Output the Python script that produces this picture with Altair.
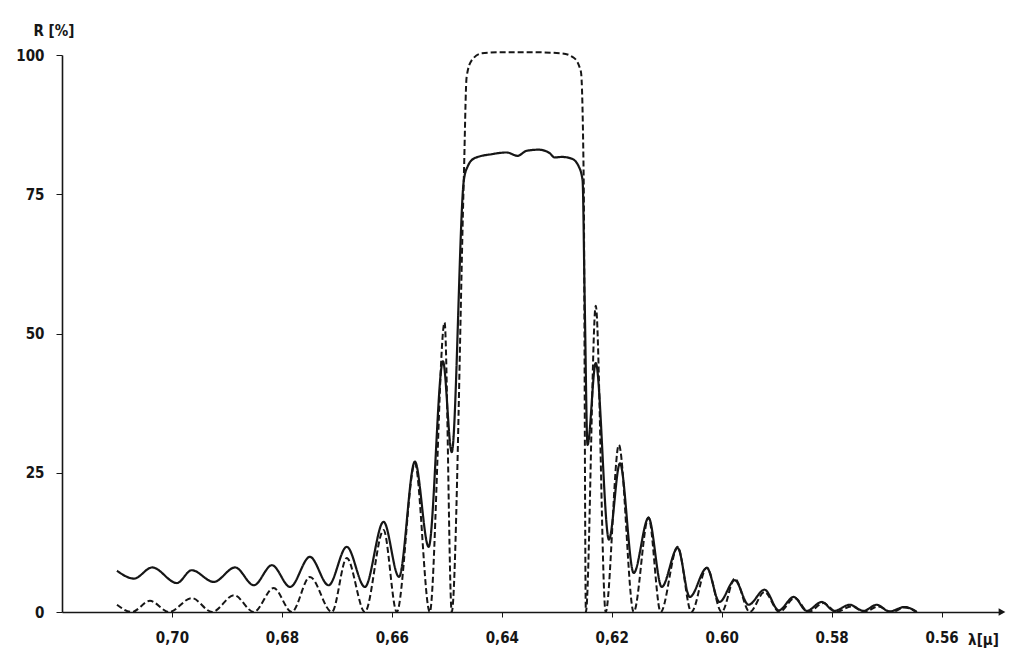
import altair as alt
import pandas as pd

# Measured curve (solid)
solid_lambda = [0.7100, 0.7069, 0.7036, 0.6991, 0.6964, 0.6924, 0.6885, 0.6851, 0.6818, 0.6785,
                0.6749, 0.6715, 0.6682, 0.6649, 0.6615, 0.6587, 0.6558, 0.6533, 0.6507, 0.6491,
                0.6469, 0.6462, 0.6449, 0.6418, 0.6391, 0.6371, 0.6355, 0.6333, 0.6313, 0.6304,
                0.6291, 0.6273, 0.6260, 0.6253, 0.6249, 0.6244, 0.6229, 0.6205, 0.6185, 0.6160,
                0.6133, 0.6109, 0.6080, 0.6058, 0.6027, 0.6004, 0.5976, 0.5951, 0.5922, 0.5896,
                0.5869, 0.5845, 0.5818, 0.5795, 0.5767, 0.5742, 0.5718, 0.5695, 0.5667, 0.5645]
solid_R = [7.4, 6.0, 8.0, 5.2, 7.5, 5.4, 8.0, 4.8, 8.4, 4.5,
           9.9, 4.8, 11.7, 4.5, 16.2, 6.3, 27.0, 11.7, 45.0, 28.7,
           77.5, 80.0, 81.5, 82.2, 82.5, 81.9, 82.8, 83.0, 82.4, 81.6,
           81.7, 81.4, 80.0, 77.5, 55.0, 30.0, 44.7, 13.0, 26.7, 7.0,
           16.9, 4.5, 11.5, 2.7, 7.9, 1.8, 5.7, 1.3, 4.0, 0.3,
           2.7, 0.2, 1.8, 0.2, 1.3, 0.2, 1.3, 0.1, 0.9, 0.0]

# Theoretical curve (dashed)
dashed_lambda = [0.7100, 0.7073, 0.7040, 0.7005, 0.6964, 0.6927, 0.6887, 0.6851, 0.6815, 0.6782,
                 0.6749, 0.6709, 0.6682, 0.6649, 0.6615, 0.6591, 0.6558, 0.6531, 0.6504, 0.6491,
                 0.6469, 0.6464, 0.6455, 0.6436, 0.6400, 0.6345, 0.6291, 0.6269, 0.6256, 0.6251,
                 0.6247, 0.6229, 0.6211, 0.6187, 0.6160, 0.6133, 0.6111, 0.6080, 0.6055, 0.6027,
                 0.6000, 0.5976, 0.5949, 0.5922, 0.5895, 0.5867, 0.5842, 0.5815, 0.5791, 0.5764,
                 0.5740, 0.5715, 0.5691, 0.5667, 0.5645]
dashed_R = [1.3, 0.0, 2.0, 0.0, 2.5, 0.0, 3.0, 0.0, 4.3, 0.0,
            6.3, 0.0, 9.7, 0.0, 14.7, 0.0, 26.7, 0.0, 52.0, 0.0,
            78.0, 96.0, 99.0, 100.3, 100.5, 100.5, 100.3, 99.5, 97.0, 78.0,
            0.0, 55.0, 0.0, 30.0, 0.0, 17.0, 0.0, 11.7, 0.0, 8.0,
            0.0, 6.0, 0.0, 3.6, 0.0, 2.5, 0.0, 1.6, 0.0, 1.0,
            0.0, 1.0, 0.0, 0.8, 0.0]

x_ticks = [0.70, 0.68, 0.66, 0.64, 0.62, 0.60, 0.58, 0.56]
x_tick_labels = ["0,70", "0,68", "0,66", "0,64", "0,62", "0.60", "0.58", "0.56"]
y_ticks = [0, 25, 50, 75, 100]
x_domain = [0.549, 0.72]
y_domain = [0, 100]

label_expr = "''"
for v, l in zip(reversed(x_ticks), reversed(x_tick_labels)):
    label_expr = f"abs(datum.value - {v}) < 0.001 ? '{l}' : ({label_expr})"

df = pd.concat([
    pd.DataFrame({"lam": solid_lambda, "R": solid_R, "curve": "solid"}),
    pd.DataFrame({"lam": dashed_lambda, "R": dashed_R, "curve": "dashed"}),
])

FONT = "DejaVu Sans Condensed, DejaVu Sans, sans-serif"
FS = 15
INK = "#161616"

x_enc = alt.X("lam:Q", scale=alt.Scale(domain=x_domain, reverse=True, nice=False, zero=False),
              axis=alt.Axis(values=x_ticks, labelExpr=label_expr, title="λ[μ]",
                            titleX=921, titleY=27, titleAngle=0, titleAlign="center",
                            titleBaseline="middle", titleFont=FONT, titleFontSize=FS,
                            titleFontWeight="bold", titleColor=INK,
                            labelFont=FONT, labelFontSize=FS, labelFontWeight="bold",
                            labelColor=INK, labelPadding=13, tickSize=5, tickWidth=1,
                            domainWidth=1.6, grid=False, labelFlush=False))
y_enc = alt.Y("R:Q", scale=alt.Scale(domain=y_domain, nice=False),
              axis=alt.Axis(values=y_ticks, title="R [%]", titleAngle=0,
                            titleX=-29, titleY=-25, titleAlign="left", titleBaseline="middle",
                            titleFont=FONT, titleFontSize=FS, titleFontWeight="bold",
                            titleColor=INK, labelFont=FONT, labelFontSize=FS,
                            labelFontWeight="bold", labelColor=INK, labelPadding=12,
                            tickSize=6, tickWidth=1, domainWidth=1.6, grid=False))

lines = alt.Chart(df).mark_line(interpolate="monotone", color=INK).encode(
    x=x_enc,
    y=y_enc,
    detail="curve:N",
    strokeDash=alt.StrokeDash("curve:N", scale=alt.Scale(domain=["solid", "dashed"],
                                                           range=[[1, 0], [6, 3]]), legend=None),
    strokeWidth=alt.StrokeWidth("curve:N", scale=alt.Scale(domain=["solid", "dashed"],
                                                            range=[2.2, 2.0]), legend=None),
)

arrow = alt.Chart(pd.DataFrame({"lam": [x_domain[0]], "R": [y_domain[0]]})).mark_point(
    shape="triangle-right", filled=True, size=60, color=INK, opacity=1
).encode(x="lam:Q", y="R:Q")

chart = alt.layer(lines, arrow).properties(
    width=940, height=557,
    autosize=alt.AutoSizeParams(type="none"),
    padding={"left": 54, "top": 47, "right": 12, "bottom": 40},
).configure_view(stroke=None).configure_axis(domainColor=INK, tickColor=INK)

chart.save("out.html", embed_options={"renderer": "svg", "actions": False})
